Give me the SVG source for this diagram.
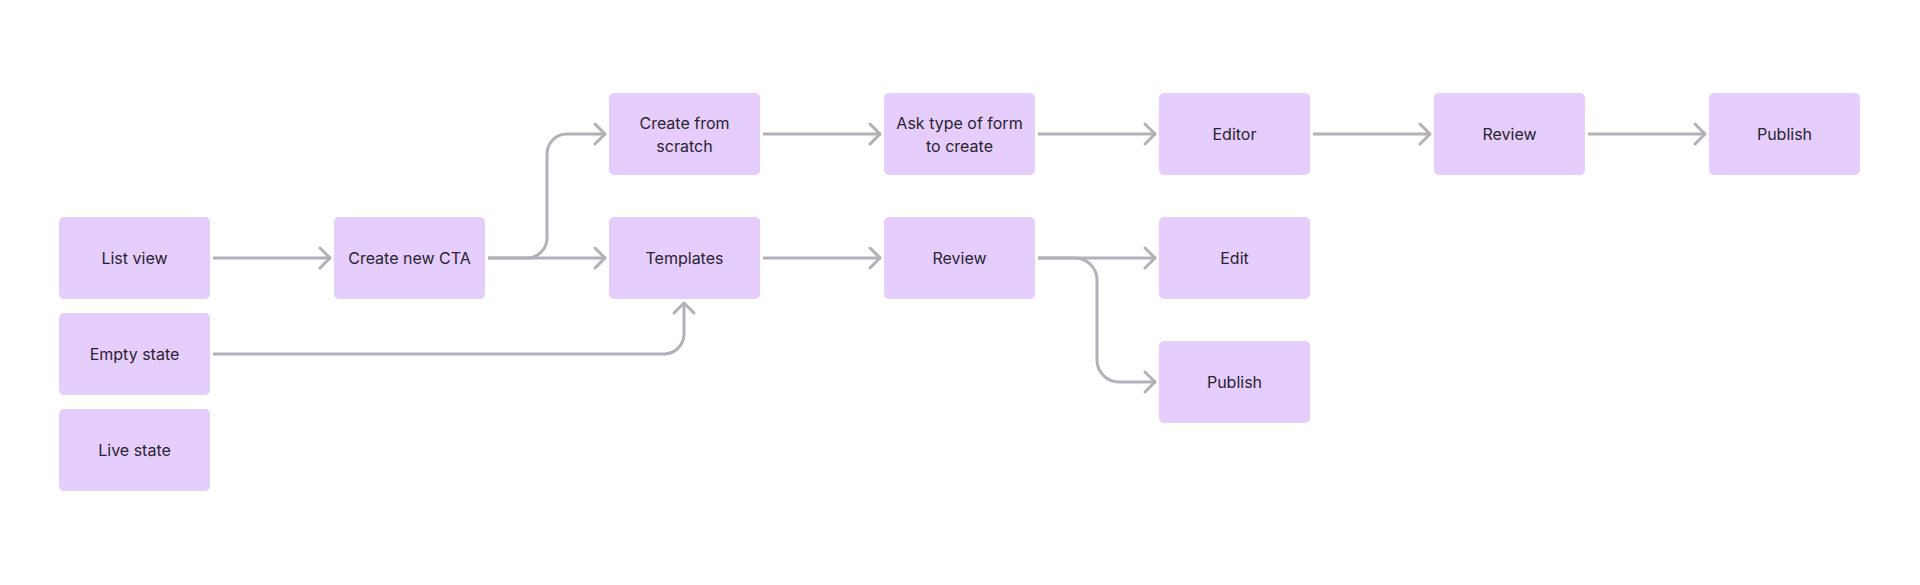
<svg xmlns="http://www.w3.org/2000/svg" width="1920" height="585" viewBox="0 0 1920 585">
<style>
.node rect{fill:#e5cdfd;}
.node text{font-family:Inter,"Noto Sans",sans-serif;font-size:16px;fill:#2a2430;text-anchor:middle;}
.conn path{fill:none;stroke:#b4b0b7;stroke-width:3;marker-end:url(#arr);}
</style>
<defs>
<marker id="arr" markerUnits="userSpaceOnUse" markerWidth="30" markerHeight="30" viewBox="-15 -15 30 30" refX="0" refY="0" orient="auto">
<path d="M -11 -10 L -1 0 L -11 10" fill="none" stroke="#b4b0b7" stroke-width="3" stroke-linecap="round" stroke-linejoin="round"/>
</marker>
</defs>
<rect width="1920" height="585" fill="#ffffff"/>
<g class="conn">
<path d="M 213 258 H 331"/>
<path d="M 488 258 H 606"/>
<path d="M 488 258 H 527 A 20 20 0 0 0 547 238 V 154 A 20 20 0 0 1 567 134 H 606"/>
<path d="M 213 354 H 664 A 20 20 0 0 0 684 334 V 302"/>
<path d="M 763 258 H 881"/>
<path d="M 763 134 H 881"/>
<path d="M 1038 134 H 1156"/>
<path d="M 1313 134 H 1431"/>
<path d="M 1588 134 H 1706"/>
<path d="M 1038 258 H 1156"/>
<path d="M 1038 258 H 1075 A 22 22 0 0 1 1097 280 V 360 A 22 22 0 0 0 1119 382 H 1156"/>
</g>
<g id="list-view" class="node"><rect x="59" y="217" width="151" height="82" rx="5"/><text x="134.5" y="264">List view</text></g>
<g id="empty-state" class="node"><rect x="59" y="313" width="151" height="82" rx="5"/><text x="134.5" y="360">Empty state</text></g>
<g id="live-state" class="node"><rect x="59" y="409" width="151" height="82" rx="5"/><text x="134.5" y="456">Live state</text></g>
<g id="create-new-cta" class="node"><rect x="334" y="217" width="151" height="82" rx="5"/><text x="409.5" y="264">Create new CTA</text></g>
<g id="create-from-scratch" class="node"><rect x="609" y="93" width="151" height="82" rx="5"/><text x="684.5" y="128.5">Create from</text><text x="684.5" y="151.5">scratch</text></g>
<g id="templates" class="node"><rect x="609" y="217" width="151" height="82" rx="5"/><text x="684.5" y="264">Templates</text></g>
<g id="ask-type" class="node"><rect x="884" y="93" width="151" height="82" rx="5"/><text x="959.5" y="128.5">Ask type of form</text><text x="959.5" y="151.5">to create</text></g>
<g id="review-mid" class="node"><rect x="884" y="217" width="151" height="82" rx="5"/><text x="959.5" y="264">Review</text></g>
<g id="editor" class="node"><rect x="1159" y="93" width="151" height="82" rx="5"/><text x="1234.5" y="140">Editor</text></g>
<g id="edit" class="node"><rect x="1159" y="217" width="151" height="82" rx="5"/><text x="1234.5" y="264">Edit</text></g>
<g id="publish-low" class="node"><rect x="1159" y="341" width="151" height="82" rx="5"/><text x="1234.5" y="388">Publish</text></g>
<g id="review-top" class="node"><rect x="1434" y="93" width="151" height="82" rx="5"/><text x="1509.5" y="140">Review</text></g>
<g id="publish-top" class="node"><rect x="1709" y="93" width="151" height="82" rx="5"/><text x="1784.5" y="140">Publish</text></g>
</svg>
